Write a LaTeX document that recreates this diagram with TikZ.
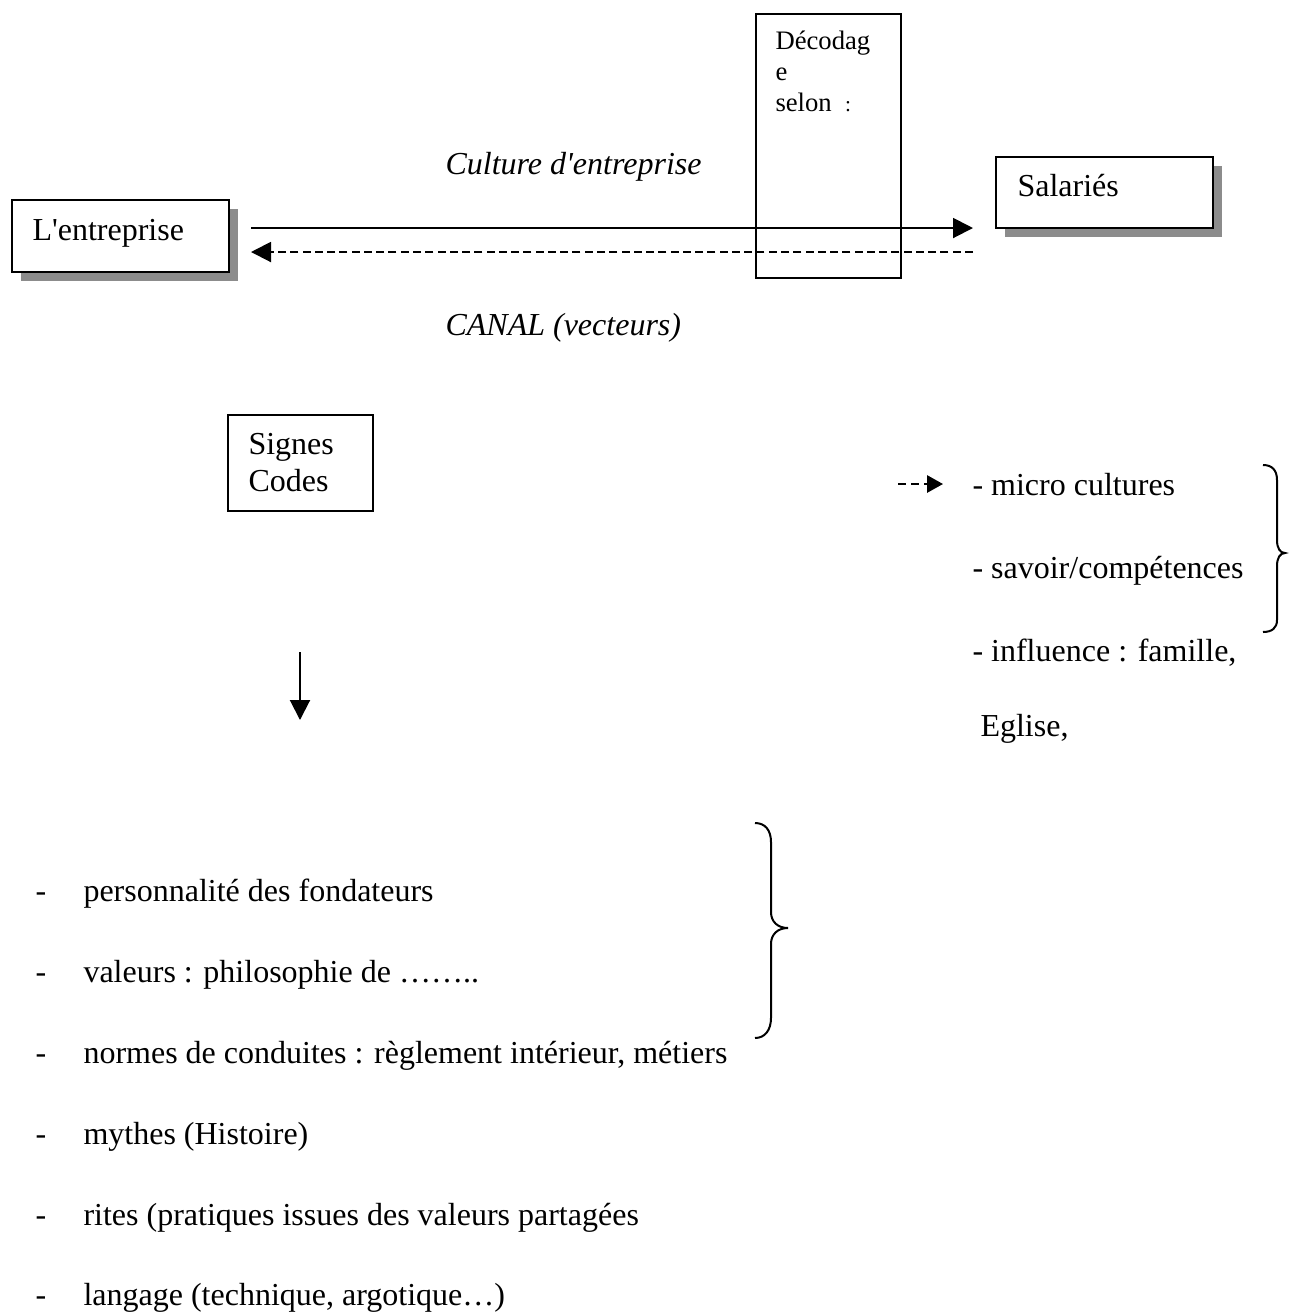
\documentclass[tikz,border=0pt]{standalone}
\usepackage{fontspec}
\setmainfont{Liberation Serif}
\usetikzlibrary{arrows.meta}
\definecolor{shadowgray}{RGB}{140,140,140}
\begin{document}
\begin{tikzpicture}[x=0.375pt,y=-0.375pt,
  box/.style={draw,line width=0.75pt,inner sep=0,anchor=north west},
  shade/.style={fill=shadowgray,draw=none,inner sep=0,anchor=north west},
  txt/.style={inner sep=0,anchor=base west,font=\fontsize{12}{13.8}\selectfont},
  small/.style={inner sep=0,anchor=base west,font=\fontsize{10}{11.5}\selectfont},
  conn/.style={line width=0.75pt,-{Triangle[length=7.5pt,width=7.5pt]}},
  dconn/.style={line width=0.75pt,dash pattern=on 3pt off 1.6pt,-{Triangle[length=7.5pt,width=7.5pt]}},
  brace/.style={line width=0.75pt}]
\useasboundingbox (0,0) rectangle (1294,1313);

% shadows
\node[shade,minimum width=81.375pt,minimum height=27pt] (entsh) at (20,208) {};
\node[shade,minimum width=81.375pt,minimum height=26.625pt] (salsh) at (1004,165) {};

% boxes
\node[box,fill=white,minimum width=81.375pt,minimum height=27pt] (ent) at (11,199) {};
\node[txt] (entt) at (32,240) {L\textquotesingle entreprise};

\node[box,fill=white,minimum width=81.375pt,minimum height=26.625pt] (sal) at (995,156) {};
\node[txt] (salt) at (1017,196) {Salariés};

\node[box,minimum width=54.375pt,minimum height=99pt] (dec) at (755,13) {};
\node[small] (dec1) at (775,49) {Décodag};
\node[small] (dec2) at (775,80) {e};
\node[small] (dec3) at (775,111) {selon\ \ {\fontsize{8}{9}\selectfont :}};

\node[box,minimum width=54.375pt,minimum height=36pt] (sig) at (227,414) {};
\node[txt] (sig1) at (248,454) {Signes};
\node[txt] (sig2) at (248,491) {Codes};

% labels
\node[txt,font=\fontsize{12}{13.8}\selectfont\itshape] (cult) at (445,174) {Culture d\textquotesingle entreprise};
\node[txt,font=\fontsize{12}{13.8}\selectfont\itshape] (canal) at (445,335) {CANAL (vecteurs)};

% main arrows
\coordinate (a1) at (251,228);
\coordinate (a2) at (973,228);
\draw[conn] (a1) -- (a2);
\coordinate (b1) at (973,252);
\coordinate (b2) at (251,252);
\draw[dconn] (b1) -- (b2);

% down arrow
\coordinate (d1) at (300,652);
\coordinate (d2) at (300,720);
\draw[conn] (d1) -- (d2);

% small dashed arrow
\coordinate (m1) at (898,484);
\coordinate (m2) at (943,484);
\draw[line width=0.75pt,dash pattern=on 3pt off 1.9pt,-{Triangle[length=6pt,width=6.5pt]}] (m1) -- (m2);

% right list
\node[txt] (r1) at (972,495) {- micro cultures};
\node[txt] (r2) at (972,578) {- savoir/compétences};
\node[txt] (r3) at (972,661) {- influence : famille,};
\node[txt] (r4) at (980,736) {Eglise,};

% right brace
\draw[brace] (1263,465) .. controls (1272,465) and (1277,470) .. (1277,480) -- (1277,540)
  .. controls (1277,548) and (1280,553) .. (1285,553)
  .. controls (1280,553) and (1277,558) .. (1277,566) -- (1277,620)
  .. controls (1277,628) and (1272,632) .. (1263,632);

% lower list
\foreach \y/\t [count=\i] in {901/personnalité des fondateurs,
  982/{valeurs : philosophie de ……..},
  1063/{normes de conduites : règlement intérieur, métiers},
  1144/mythes (Histoire),
  1225/rites (pratiques issues des valeurs partagées,
  1305/{langage (technique, argotique…)}}{
  \node[txt] (dash\i) at (35,\y) {-};
  \node[txt] (item\i) at (83,\y) {\t};
}

% lower brace
\draw[brace] (755,823) .. controls (765,823) and (771,830) .. (771,842) -- (771,912)
  .. controls (771,922) and (778,928) .. (788,928)
  .. controls (778,928) and (771,934) .. (771,944) -- (771,1018)
  .. controls (771,1030) and (765,1038) .. (755,1038);
\end{tikzpicture}
\end{document}
